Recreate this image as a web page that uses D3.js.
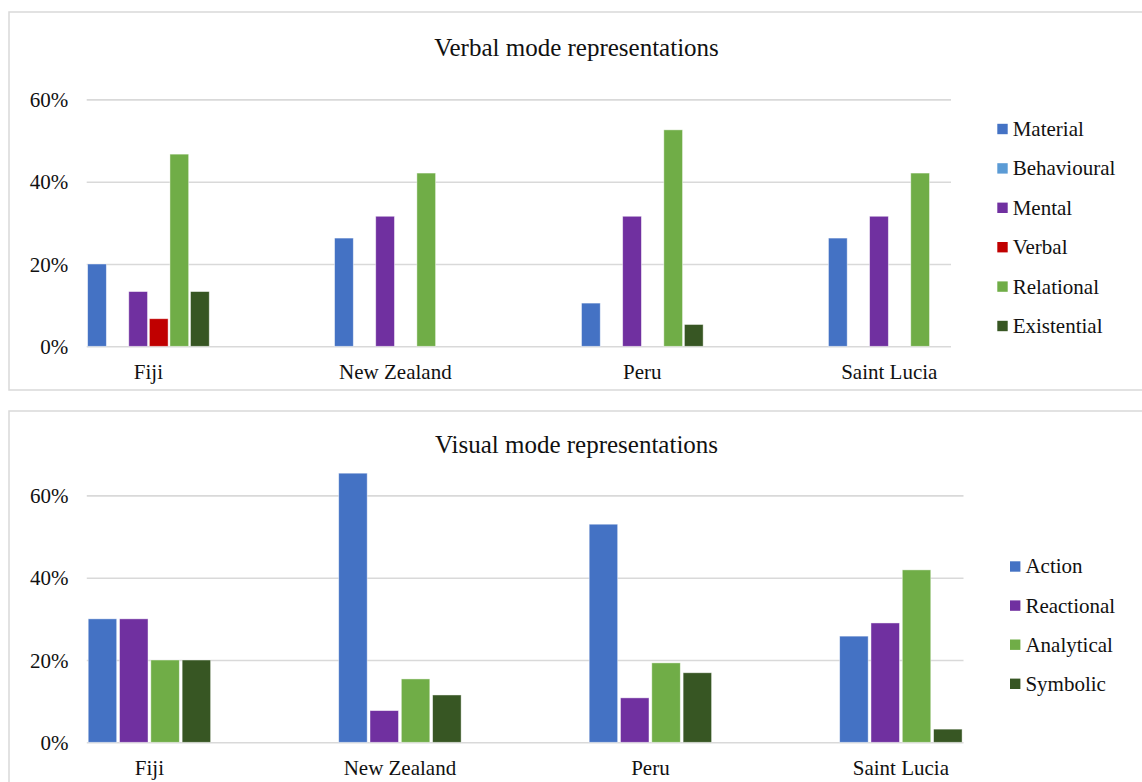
<!DOCTYPE html>
<html>
<head>
<meta charset="utf-8">
<script src="https://cdn.jsdelivr.net/npm/d3@7"></script>
<style>
  html, body { margin: 0; padding: 0; background: #fff; }
  svg { display: block; }
  text { font-family: "Liberation Serif", "Times New Roman", serif; fill: #111; }
</style>
</head>
<body>
<svg id="chart" width="1142" height="782"></svg>
<script>
// Countries shown on both charts
const categories = ["Fiji", "New Zealand", "Peru", "Saint Lucia"];

// Verbal mode: process types (% of clauses per country)
const verbalSeries = ["Material", "Behavioural", "Mental", "Verbal", "Relational", "Existential"];
const material    = [20.0, 26.3, 10.5, 26.3];
const behavioural = [0, 0, 0, 0];
const mental      = [13.3, 31.6, 31.6, 31.6];
const verbal      = [6.7, 0, 0, 0];
const relational  = [46.7, 42.1, 52.6, 42.1];
const existential = [13.3, 0, 5.3, 0];

// Visual mode: representation types (% of images per country)
const visualSeries = ["Action", "Reactional", "Analytical", "Symbolic"];
const action     = [30.0, 65.4, 53.0, 25.8];
const reactional = [30.0, 7.7, 10.8, 29.0];
const analytical = [20.0, 15.4, 19.3, 41.9];
const symbolic   = [20.0, 11.5, 16.9, 3.2];

// Value axis ticks (percent)
const yTicks = [0, 20, 40, 60];

const verbalColors = ["#4472C4", "#5B9BD5", "#7030A0", "#C00000", "#70AD47", "#375623"];
const visualColors = ["#4472C4", "#7030A0", "#70AD47", "#375623"];

const svg = d3.select("#chart");

function drawPanel(opt) {
  const g = svg.append("g");

  // chart frame
  g.append("rect")
    .attr("x", opt.frame[0]).attr("y", opt.frame[1])
    .attr("width", opt.frame[2]).attr("height", opt.frame[3])
    .attr("fill", "#fff").attr("stroke", "#d9d9d9").attr("stroke-width", 1.5);

  // title
  g.append("text")
    .attr("x", 576.5).attr("y", opt.titleY)
    .attr("text-anchor", "middle")
    .style("font-size", "25px")
    .text(opt.title);

  const x0 = d3.scaleBand().domain(categories)
    .range([opt.left, opt.right]).paddingInner(0.5).paddingOuter(0);
  const x1 = d3.scaleBand().domain(opt.series)
    .range([0, x0.bandwidth()]).paddingInner(0.09).paddingOuter(0.045);
  const y = d3.scaleLinear().domain([0, 60]).range([opt.bottom, opt.top]);
  const color = d3.scaleOrdinal().domain(opt.series).range(opt.colors);

  // gridlines + value labels
  const yAxis = d3.axisLeft(y).tickValues(yTicks)
    .tickFormat(d => d + "%")
    .tickSizeInner(-(opt.right - opt.left)).tickSizeOuter(0).tickPadding(18.4);
  const ya = g.append("g").attr("transform", `translate(${opt.left},0)`).call(yAxis);
  ya.select(".domain").remove();
  ya.selectAll(".tick line").attr("stroke", "#d9d9d9").attr("stroke-width", 1.6);
  ya.selectAll(".tick text").style("font-size", "21px")
    .style("font-family", '"Liberation Serif", serif').attr("fill", "#111").attr("dy", "0.34em");

  // category labels
  const xAxis = d3.axisBottom(x0).tickSize(0).tickPadding(18.1);
  const xa = g.append("g").attr("transform", `translate(0,${opt.bottom})`).call(xAxis);
  xa.select(".domain").remove();
  xa.selectAll(".tick text").style("font-size", "21px")
    .style("font-family", '"Liberation Serif", serif').attr("fill", "#111");

  // bars
  const groups = g.append("g").selectAll("g")
    .data(categories).join("g")
    .attr("transform", d => `translate(${x0(d)},0)`);
  groups.selectAll("rect")
    .data((c, i) => opt.series.map((s, k) => ({ s, v: opt.values[k][i] })).filter(d => d.v > 0))
    .join("rect")
    .attr("x", d => x1(d.s))
    .attr("width", x1.bandwidth())
    .attr("y", d => y(d.v))
    .attr("height", d => y(0) - y(d.v))
    .attr("fill", d => color(d.s))
    .attr("stroke", "#ffffff").attr("stroke-opacity", 0.55).attr("stroke-width", 0.8);

  // legend
  const lg = g.append("g").selectAll("g")
    .data(opt.series).join("g")
    .attr("transform", (d, i) => `translate(${opt.legendX},${opt.legendY + i * opt.legendStep})`);
  lg.append("rect").attr("x", 0).attr("y", -5.2).attr("width", 10.4).attr("height", 10.4)
    .attr("fill", d => color(d));
  lg.append("text").attr("x", 15.4).attr("y", 0).attr("dy", "0.33em")
    .style("font-size", "21px").text(d => d);
}

drawPanel({
  frame: [9, 12, 1140, 378],
  title: "Verbal mode representations",
  titleY: 55.7,
  left: 86.7, right: 951, top: 99.4, bottom: 346.3,
  series: verbalSeries,
  values: [material, behavioural, mental, verbal, relational, existential],
  colors: verbalColors,
  legendX: 997.3, legendY: 129, legendStep: 39.4
});

drawPanel({
  frame: [9, 411, 1140, 390],
  title: "Visual mode representations",
  titleY: 453.3,
  left: 86.8, right: 963.5, top: 495.4, bottom: 742.3,
  series: visualSeries,
  values: [action, reactional, analytical, symbolic],
  colors: visualColors,
  legendX: 1010, legendY: 566.5, legendStep: 39.1
});
</script>
</body>
</html>
